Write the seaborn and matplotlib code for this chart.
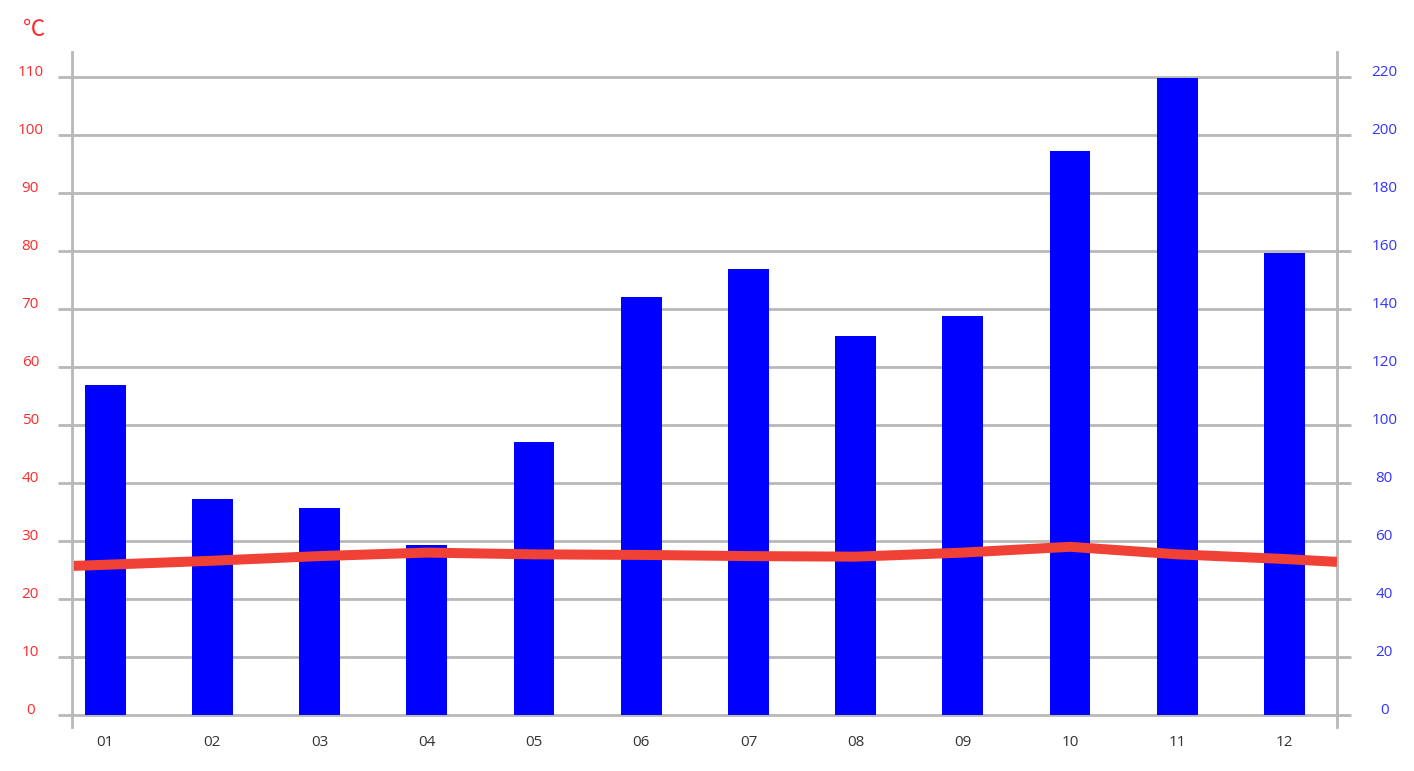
import matplotlib
matplotlib.use("Agg")
from matplotlib import pyplot as plt
from matplotlib.transforms import ScaledTranslation
import seaborn as sns
import pandas as pd

# monthly data
months = ["01", "02", "03", "04", "05", "06", "07", "08", "09", "10", "11", "12"]
rainfall = [113.8, 74.5, 71.4, 58.6, 94.1, 144.1, 153.8, 130.7, 137.6, 194.5, 219.8, 159.3]
temperature = [25.9, 26.6, 27.4, 28.0, 27.7, 27.6, 27.4, 27.3, 28.0, 29.0, 27.7, 26.9]
temp_edges = [25.7, 26.4]  # line value where it meets the left / right axis

left_ticks = list(range(0, 111, 10))
right_ticks = list(range(0, 221, 20))

GRID = "#b8b8b8"
RED = "#ff2a2a"
BLUE = "#3333ff"

sns.set_style("white")
plt.rcParams["font.family"] = ["Open Sans", "DejaVu Sans"]

fig = plt.figure(figsize=(14.14, 7.71), dpi=100)
rect = [72 / 1414, 1 - 727 / 771, (1337 - 72) / 1414, (727 - 52) / 771]
xlo, xhi = -0.31, 11.49

# bars on the right-hand scale
ax_bar = fig.add_axes(rect)
df = pd.DataFrame({"month": months, "rain": rainfall})
sns.barplot(data=df, x="month", y="rain", ax=ax_bar, color="#0000ff",
            saturation=1, width=0.38, linewidth=0, zorder=2)
ax_bar.set_xlim(xlo, xhi)
ax_bar.set_ylim(-12 / 2.9, 220 + 25 / 2.9)
ax_bar.set_yticks(right_ticks)
ax_bar.yaxis.tick_right()
ax_bar.set_axisbelow(True)
ax_bar.grid(axis="y", color=GRID, linewidth=2)
ax_bar.grid(axis="x", visible=False)
ax_bar.set_xlabel("")
ax_bar.set_ylabel("")
ax_bar.tick_params(axis="y", which="both", right=True, length=10, width=2,
                   color=GRID, labelcolor=BLUE, labelsize=11, pad=24)
ax_bar.tick_params(axis="x", length=0, labelcolor="#333333", labelsize=11, pad=6)
for lab in ax_bar.get_yticklabels():
    lab.set_horizontalalignment("center")
for s in ["top", "bottom", "left"]:
    ax_bar.spines[s].set_visible(False)
ax_bar.spines["right"].set_color(GRID)
ax_bar.spines["right"].set_linewidth(2)

# temperature line on the left-hand scale
ax_t = fig.add_axes(rect)
ax_t.patch.set_visible(False)
line_x = [xlo] + list(range(len(months))) + [xhi]
line_y = [temp_edges[0]] + temperature + [temp_edges[1]]
sns.lineplot(x=line_x, y=line_y, ax=ax_t, color="#ef4136", linewidth=7.2,
             solid_capstyle="butt", sort=False)
ax_t.set_xlim(xlo, xhi)
ax_t.set_ylim(-12 / 5.8, 110 + 25 / 5.8)
ax_t.set_yticks(left_ticks)
ax_t.set_xticks([])
ax_t.tick_params(axis="y", left=True, length=10, width=2, color=GRID,
                 labelcolor=RED, labelsize=11, pad=20)
for lab in ax_t.get_yticklabels():
    lab.set_horizontalalignment("center")
for s in ["top", "bottom", "right"]:
    ax_t.spines[s].set_visible(False)
ax_t.spines["left"].set_color(GRID)
ax_t.spines["left"].set_linewidth(2)

# nudge y labels slightly above their grid lines
shift = ScaledTranslation(0, 6 / 100, fig.dpi_scale_trans)
for lab in ax_t.get_yticklabels() + ax_bar.get_yticklabels():
    lab.set_transform(lab.get_transform() + shift)

fig.text(34 / 1414, 1 - 30 / 771, "℃", color=RED, fontsize=16,
         ha="center", va="center", family=["Noto Sans CJK SC", "DejaVu Sans"])

fig.savefig("out.png", dpi=100)
